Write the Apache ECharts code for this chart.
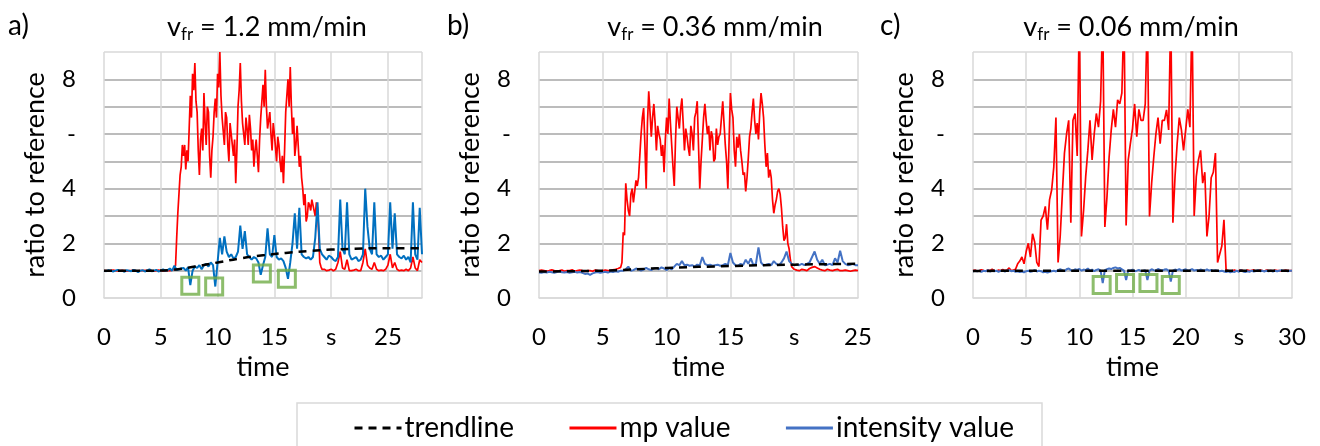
<!DOCTYPE html>
<html><head><meta charset="utf-8">
<script src="https://cdn.jsdelivr.net/npm/echarts@6/dist/echarts.min.js"></script>
<style>html,body{margin:0;padding:0;background:#fff}#c{width:1320px;height:446px}</style>
</head><body><div id="c"></div>
<script>
// ---------- data ----------
// each series is made of segments: [start time (s), sample step (s), values]
const yTickLabels = ['0','','2','','4','','-','','8',''];
const xTickLabelsA = ['0','5','10','15','s','25'];
const xTickLabelsB = ['0','5','10','15','s','25'];
const xTickLabelsC = ['0','5','10','15','20','s','30'];
const panelTags = ['a)','b)','c)'];
const feedRates = ['1.2','0.36','0.06'];
const legendNames = ['trendline','mp value','intensity value'];

// ---- panel a ----
const mpA_pre = [1.0,1.0,0.98,1.0,1.02,1.0,0.99,1.0,1.01,1.0,0.98,1.0,1.0,1.02,1.0,0.99,1.0,1.0,1.01,0.99,1.0,1.0,0.98,1.0,1.02,1.0,0.99,1.0,1.0,1.0,1.02,1.05];
const mpA_mid = [1.2,2.2,3.1,3.8,4.5,4.8,5.6,5.2,5.6,4.7,
5.4,5.0,6.2,7.4,6.6,8.2,7.6,8.6,7.2,6.8,
5.4,4.5,5.8,6.2,5.4,7.5,6.4,5.6,7.0,6.8,
5.2,4.4,5.4,5.9,6.8,7.3,6.6,8.2,7.7,9.0,
7.4,6.6,6.1,5.6,6.8,6.6,5.6,5.0,6.4,6.0,
5.6,5.2,5.8,4.2,5.4,7.0,7.6,8.6,7.2,6.4,
6.0,5.6,6.6,6.2,5.6,6.7,6.2,5.4,5.8,4.8,
5.4,5.8,5.2,4.6,5.8,6.6,7.2,7.8,7.0,8.35,
7.0,6.2,6.5,6.8,6.0,5.4,6.4,6.0,5.5,5.0,
5.9,5.6,5.0,4.6,5.2,4.2,5.4,6.8,7.4,8.0,
7.0,8.45,7.0,6.0,6.6,5.2,5.6,6.3,5.6,4.8,
5.2,4.4,4.0,3.4,3.8,2.8,3.0,3.5,3.4,3.2,
3.6,3.4,3.2,3.0,3.5,3.3,2.4,1.3,1.15,1.05];
const mpA_post = [1.05,1.0,1.02,1.05,1.0,1.05,1.3,1.7,1.1,1.05,
1.4,1.0,1.0,1.02,1.05,1.0,1.0,1.3,1.8,1.2,
1.1,1.05,1.3,1.05,1.0,1.02,1.0,1.05,1.2,1.6,
1.1,1.3,1.05,1.0,1.02,1.0,1.05,1.0,1.1,1.5,
1.1,1.0,1.4,1.3];
const intA = [1.0,0.98,1.02,1.0,0.97,1.0,1.03,0.99,1.0,0.96,1.02,1.0,0.98,1.03,1.0,0.95,1.0,1.02,0.97,1.0,1.05,0.98,1.0,1.03,0.97,1.0,1.05,1.0,1.02,1.08,1.0,1.18,
1.02,1.05,1.08,1.1,1.0,1.12,0.47,1.0,1.15,1.1,
1.2,1.05,1.2,1.25,1.15,1.3,1.2,0.42,1.3,2.2,
1.6,2.25,1.7,1.5,1.6,1.45,1.5,1.7,2.65,1.8,
2.45,1.6,1.5,1.4,1.5,1.45,1.3,0.85,1.2,1.5,
2.55,1.6,1.5,2.3,1.5,1.4,1.45,1.35,1.1,0.7,
1.3,2.0,3.1,1.8,3.3,1.6,1.5,1.45,1.5,1.4,
1.5,2.2,3.5,1.8,1.6,1.5,1.4,1.55,1.5,1.4,
1.35,1.5,3.6,1.8,1.6,3.5,1.6,1.4,1.45,1.5,
1.35,1.4,1.6,4.0,2.6,1.8,1.6,3.5,1.6,1.5,
1.55,1.4,1.5,1.6,3.5,1.8,3.1,1.6,1.5,1.45,
1.55,1.4,1.5,1.3,3.5,1.6,1.4,3.3,1.6];
const trendAT = [0,2,4,6,8,10,12,14,16,18,20,22,24,26,28];
const trendA = [1.0,1.0,1.0,1.03,1.15,1.3,1.45,1.56,1.65,1.72,1.77,1.8,1.82,1.82,1.82];
const boxesA = [[7.6,0.45],[9.7,0.42],[13.9,0.9],[16.1,0.7]];

// ---- panel b ----
const mpB_pre = [1.0,1.02,1.0,0.98,1.0,1.03,1.0,0.99,1.0,1.02,0.98,1.0,1.0,1.03,0.98,1.0,1.02,1.0,0.97,1.0,1.0,0.98,1.02,1.0,0.98,1.0,1.02,1.0,1.0,1.03,1.05,1.08,1.12];
const mpB_mid = [1.3,2.4,2.3,4.2,3.6,3.2,3.0,3.8,4.0,3.5,
3.9,4.3,4.1,4.4,5.2,6.0,6.6,6.95,5.6,4.0,
6.4,7.56,6.8,5.9,6.6,7.1,6.4,5.4,6.3,6.0,
5.8,5.2,5.6,4.6,5.8,6.6,6.0,7.3,6.4,5.6,
4.8,4.1,5.8,7.0,6.6,6.2,6.9,7.3,6.4,5.4,
6.2,5.9,5.5,5.2,6.3,6.0,5.4,6.6,6.8,7.2,
5.6,4.0,5.0,5.8,6.6,7.1,6.5,6.0,6.3,5.4,
6.1,5.9,5.0,5.1,6.2,5.6,5.9,6.0,6.6,7.2,
6.4,5.6,5.0,4.0,5.8,7.5,6.9,6.6,5.4,4.8,
5.9,5.5,6.0,5.4,5.0,4.5,4.6,3.9,4.4,5.1,
5.9,6.2,6.8,7.3,6.5,6.0,6.4,5.8,6.8,7.5,
7.1,6.6,5.6,4.8,5.3,4.4,4.7,4.4,3.6,3.1,
3.4,3.6,3.9,4.0,3.8,3.3,2.6,2.1,2.2,2.7,
2.0,1.8,1.4,1.15,1.1,1.05];
const mpB_post = [1.02,1.0,1.05,1.03,1.0,1.08,1.12,1.15,1.1,1.05,1.02,1.0,1.05,1.02,1.0,1.03,1.05,1.0,1.0,1.02,1.0,0.98,1.0,1.02,1.0];
const intB = [0.93,0.92,0.95,0.93,0.96,0.94,0.92,0.95,0.97,0.94,0.93,0.95,0.92,0.94,0.96,0.93,0.95,0.92,0.88,0.9,0.85,0.9,0.93,0.95,0.92,0.94,0.96,0.93,0.97,0.95,0.98,0.96,1.0,
1.0,1.05,1.15,1.0,1.02,1.08,1.05,1.0,1.04,1.1,
1.05,1.02,1.08,1.1,1.05,1.12,1.08,1.02,1.1,1.05,
1.15,1.25,1.2,1.35,1.2,1.22,1.18,1.2,1.15,1.22,
1.2,1.5,1.25,1.2,1.22,1.18,1.2,1.22,1.18,1.2,
1.25,1.2,1.65,1.3,1.2,1.18,1.25,1.2,1.4,1.25,
1.45,1.2,1.25,1.85,1.3,1.2,1.22,1.25,1.2,1.35,
1.25,1.2,1.3,1.45,1.7,1.35,1.25,1.2,1.22,1.2,
1.25,1.2,1.25,1.3,1.5,1.7,1.4,1.25,1.4,1.2,
1.22,1.25,1.2,1.45,1.3,1.73,1.35,1.25,1.2,1.22,
1.25,1.2,1.2];
const trendBT = [0,5,10,15,20,25];
const trendB = [0.97,1.0,1.1,1.17,1.22,1.25];
const boxesB = [];

// ---- panel c ----
const mpC = [1.0,1.02,0.98,1.0,1.03,1.0,0.99,1.02,1.0,1.05,1.0,0.98,1.02,1.0,1.04,1.0,1.02,1.1,1.0,1.02,
1.05,1.25,1.35,1.5,1.25,1.7,2.0,1.5,2.35,2.05,
1.3,1.15,2.85,3.0,3.35,2.5,3.6,3.96,4.8,6.6,
1.3,2.25,3.8,5.3,6.0,6.5,2.75,6.5,6.75,5.2,
10.5,2.25,3.2,4.45,5.4,6.5,5.05,6.0,6.75,6.25,
7.2,10.5,2.6,3.7,5.15,6.15,6.9,6.25,7.25,7.1,
7.5,10.5,2.65,5.05,5.65,6.2,7.1,5.9,6.9,6.5,
6.5,7.1,10.5,2.98,4.2,5.15,6.0,6.6,5.65,6.5,
6.5,6.88,6.15,10.5,2.75,4.45,5.65,6.6,6.15,5.4,
6.15,6.9,6.25,10.5,3.0,4.45,5.05,5.4,4.2,4.6,
2.25,3.0,4.4,4.6,5.3,1.3,1.6,1.9,2.86,1.03,
1.0,0.97,1.0,1.02,0.98,1.0,1.03,1.0,0.98,1.02,1.0,1.0,1.03,0.98,1.0,1.02,1.0,0.98,1.02,1.0,1.0,0.99,1.02,1.0,1.0,0.98,1.0,1.02,1.0,1.0,1.0];
const intC = [0.97,1.0,0.98,1.0,0.96,1.0,0.98,1.02,0.97,1.0,0.98,1.0,0.96,0.99,1.0,0.97,1.0,1.02,0.98,1.0,0.96,
0.98,0.95,0.97,0.94,0.98,1.0,0.96,0.98,1.02,0.97,1.0,0.98,0.94,0.96,0.93,0.96,0.98,1.0,0.97,1.02,
1.05,1.02,0.98,1.05,1.08,1.02,1.0,1.05,1.03,1.06,1.0,1.04,1.02,1.08,1.0,1.04,0.98,1.03,1.05,1.0,
0.55,1.02,1.05,1.08,1.06,1.1,1.12,1.08,1.1,1.05,
1.0,0.66,1.02,1.0,1.04,0.98,1.0,1.03,0.98,1.0,
1.02,0.66,1.0,1.05,1.02,1.0,1.06,1.03,1.0,1.04,
1.05,1.0,0.6,1.0,1.04,1.02,1.06,1.0,1.03,1.05,
1.0,1.02,1.06,1.0,1.03,1.0,1.04,1.02,1.0,1.05,
1.0,1.03,1.0,1.02,1.0,0.98,1.0,0.97,0.95,0.98,
0.94,0.97,0.95,1.0,0.96,1.02,0.97,0.95,0.98,0.96,
1.0,0.97,0.99,1.02,0.98,1.0,0.97,1.0,0.98,1.0,
0.97,1.0,0.98,1.0,1.02,0.99,1.0,0.98,1.0,1.0];
const trendCT = [0,10,20,30];
const trendC = [0.99,1.0,1.0,1.0];
const boxesC = [[12.1,0.48],[14.3,0.55],[16.5,0.55],[18.6,0.48]];

// segment tables
const mpSegA = [[0, 0.2, mpA_pre], [6.3, 0.1, mpA_mid], [19.4, 0.2, mpA_post]];
const mpSegB = [[0, 0.2, mpB_pre], [6.5, 0.1, mpB_mid], [20.2, 0.2, mpB_post]];
const mpSegC = [[0, 0.2, mpC]];
const intSegA = [[0, 0.2, intA]];
const intSegB = [[0, 0.2, intB]];
const intSegC = [[0, 0.2, intC]];

// ---------- layout / style ----------
const FONT = 'Lato';
const TXT = '#000';
const TICK_FS = 24, NAME_FS = 27, TITLE_FS = 27, LEGEND_FS = 28;
const panels = [
  {xMax:28, mp:mpSegA, it:intSegA, tT:trendAT, tV:trendA, boxes:boxesA, xl:xTickLabelsA, left:104, width:318, intColor:'#0070C0', tagX:7, titleX:267},
  {xMax:25, mp:mpSegB, it:intSegB, tT:trendBT, tV:trendB, boxes:boxesB, xl:xTickLabelsB, left:539, width:319, intColor:'#4472C4', tagX:446, titleX:715},
  {xMax:30, mp:mpSegC, it:intSegC, tT:trendCT, tV:trendC, boxes:boxesC, xl:xTickLabelsC, left:973, width:319, intColor:'#4472C4', tagX:879, titleX:1131}
];
const LIGHT = '#d9d9d9', DARK = '#a6a6a6';
const yLineColors = [LIGHT,DARK,DARK,DARK,DARK,DARK,DARK,DARK,DARK,LIGHT];

const fromSegments = (segs) => {
  const out = [];
  segs.forEach(([t0, dt, vals]) => vals.forEach((v, i) => out.push([Math.round((t0 + i * dt) * 100) / 100, v])));
  return out;
};
const zip = (ts, vs) => ts.map((t, i) => [t, vs[i]]);

const option = {
  animation: false,
  backgroundColor: '#fff',
  textStyle: {fontFamily: FONT},
  title: [],
  grid: [], xAxis: [], yAxis: [], series: [],
  legend: {
    left: 297, top: 403,
    padding: [11, 28, 60, 56],
    borderColor: LIGHT, borderWidth: 1.5,
    itemWidth: 47, itemHeight: 14, itemGap: 54,
    itemStyle: {opacity: 0},
    lineStyle: {width: 3},
    textStyle: {fontFamily: FONT, fontSize: LEGEND_FS, color: TXT, padding: [0, 0, 0, -2]},
    data: [
      {name: legendNames[0]},
      {name: legendNames[1]},
      {name: legendNames[2], lineStyle: {color: '#4472C4', width: 3}}
    ]
  }
};

panels.forEach((p, i) => {
  option.title.push({text: panelTags[i], left: p.tagX + 1, top: 12, padding: 0,
    textStyle: {fontFamily: FONT, fontSize: 28, fontWeight: 'normal', color: TXT}});
  option.title.push({text: '{v|v}{s|fr}{n| = ' + feedRates[i] + ' mm/min}', left: p.titleX, top: 11, padding: 0, textAlign: 'center',
    textStyle: {fontFamily: FONT, fontSize: TITLE_FS, fontWeight: 'normal', color: TXT,
      rich: {
        v: {fontFamily: FONT, fontSize: TITLE_FS, color: TXT},
        s: {fontFamily: FONT, fontSize: 17, color: TXT, padding: [15, 0, 0, 0]},
        n: {fontFamily: FONT, fontSize: TITLE_FS, color: TXT}
      }}});
  option.grid.push({left: p.left, top: 52, width: p.width, height: 246});
  option.xAxis.push({
    type: 'value', gridIndex: i, min: 0, max: p.xMax, interval: 5,
    name: 'time', nameLocation: 'middle', nameGap: 56,
    nameTextStyle: {fontFamily: FONT, fontSize: NAME_FS, color: TXT},
    axisLine: {show: true, lineStyle: {color: LIGHT, width: 1.5}},
    axisTick: {show: false},
    axisLabel: {margin: 27, fontFamily: FONT, fontSize: TICK_FS, color: TXT,
      formatter: (v) => (Math.abs(v % 5) < 1e-9 && v / 5 < p.xl.length) ? p.xl[Math.round(v / 5)] : ''},
    splitLine: {show: true, lineStyle: {color: LIGHT, width: 1.5}}
  });
  option.yAxis.push({
    type: 'value', gridIndex: i, min: 0, max: 9, interval: 1,
    name: 'ratio to reference', nameLocation: 'middle', nameGap: 55,
    nameTextStyle: {fontFamily: FONT, fontSize: NAME_FS, color: TXT},
    axisLine: {show: false}, axisTick: {show: false},
    axisLabel: {margin: 28, fontFamily: FONT, fontSize: TICK_FS, color: TXT,
      formatter: (v) => yTickLabels[Math.round(v)] || ''},
    splitLine: {show: true, lineStyle: {color: yLineColors, width: 1.5}}
  });
  option.series.push({
    name: legendNames[1], type: 'line', xAxisIndex: i, yAxisIndex: i,
    data: fromSegments(p.mp), symbol: 'none', showSymbol: false, z: 2,
    lineStyle: {color: '#FF0000', width: 1.7}, itemStyle: {color: '#FF0000'}
  });
  option.series.push({
    name: legendNames[2], type: 'line', xAxisIndex: i, yAxisIndex: i,
    data: fromSegments(p.it), symbol: 'none', showSymbol: false, z: 3,
    lineStyle: {color: p.intColor, width: 2}, itemStyle: {color: p.intColor}
  });
  option.series.push({
    name: legendNames[0], type: 'line', xAxisIndex: i, yAxisIndex: i,
    data: zip(p.tT, p.tV), symbol: 'none', showSymbol: false, smooth: 0.4, z: 4,
    lineStyle: {color: '#000', width: 2.5, type: [8, 6]}, itemStyle: {color: '#000'}
  });
  if (p.boxes.length) {
    option.series.push({
      name: 'markers', type: 'scatter', xAxisIndex: i, yAxisIndex: i,
      data: p.boxes, symbol: 'rect', symbolSize: 17, z: 5, silent: true,
      itemStyle: {color: 'rgba(0,0,0,0)', borderColor: '#70AD47', borderWidth: 3}
    });
  }
});

const chart = echarts.init(document.getElementById('c'), null, {renderer: 'canvas'});
chart.setOption(option);
</script>
</body></html>
